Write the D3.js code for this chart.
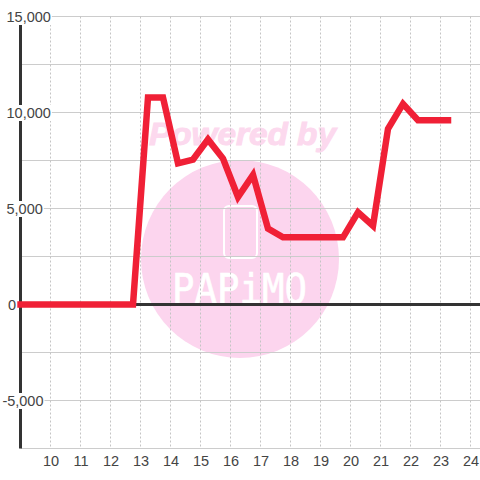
<!DOCTYPE html>
<html><head><meta charset="utf-8">
<script src="https://cdnjs.cloudflare.com/ajax/libs/d3/7.8.5/d3.min.js"></script>
<style>html,body{margin:0;padding:0;background:#fff}svg{display:block}text{font-family:"Liberation Sans",Arial,sans-serif}</style>
</head><body><svg id="c" width="480" height="480"></svg>
<script>
const hours = [9,12.75,13.25,13.75,14.25,14.75,15.25,15.75,16.25,16.75,17.25,17.75,18.25,18.75,19.25,19.75,20.25,20.75,21.25,21.75,22.25,22.75,23.25];
const values = [0,0,10780,10780,7350,7550,8600,7600,5600,6750,3950,3500,3500,3500,3500,3500,4800,4100,9150,10450,9600,9600,9600];
const xTicks = [10,11,12,13,14,15,16,17,18,19,20,21,22,23,24];
const yGrid = [15000,12500,10000,7500,5000,2500,0,-2500,-5000,-7500];
const yLabels = [15000,10000,5000,0,-5000];
const watermark = "Powered by";
const brand = "PAPiMO";

const svg = d3.select("#c");
const x = d3.scaleLinear().domain([9,24]).range([20.5,470.5]);
const y = d3.scaleLinear().domain([15000,-7500]).range([16.5,448.5]);

// watermark
const wm = svg.append("g");
wm.append("circle").attr("cx",240).attr("cy",259).attr("r",99).attr("fill","#fcd5ee");
wm.append("rect").attr("x",224).attr("y",206).attr("width",33).attr("height",52).attr("rx",5)
  .attr("fill","none").attr("stroke","#fff").attr("stroke-width",2);
wm.append("text").text(brand).attr("x",172).attr("y",303)
  .attr("textLength",135).attr("lengthAdjust","spacingAndGlyphs")
  .attr("font-size",40).attr("fill","#fff").attr("stroke","#fff").attr("stroke-width",0.6)
  .style("font-family","'DejaVu Sans Mono'");
wm.append("text").text(watermark).attr("x",149).attr("y",145)
  .attr("textLength",187).attr("lengthAdjust","spacingAndGlyphs")
  .attr("font-size",32).attr("font-weight","bold").attr("font-style","italic")
  .attr("fill","#fcd9ee").attr("stroke","#fcd9ee").attr("stroke-width",1);

// grid
svg.append("g").selectAll("line").data(yGrid).join("line")
  .attr("x1",x(9)).attr("x2",480).attr("y1",d=>y(d)).attr("y2",d=>y(d))
  .attr("stroke","#ccc").attr("stroke-width",1);
svg.append("g").selectAll("line").data(xTicks).join("line")
  .attr("x1",d=>x(d)).attr("x2",d=>x(d)).attr("y1",y(15000)).attr("y2",y(-7500))
  .attr("stroke","#c4c4c4").attr("stroke-width",1).attr("stroke-dasharray","2 2");

// axes
svg.append("line").attr("x1",x(9)).attr("x2",x(9)).attr("y1",y(15000)).attr("y2",y(-7500))
  .attr("stroke","#333").attr("stroke-width",3);
svg.append("line").attr("x1",x(9)).attr("x2",480).attr("y1",y(0)).attr("y2",y(0))
  .attr("stroke","#333").attr("stroke-width",3);

// data line
svg.append("path").datum(hours.map((h,i)=>[h,values[i]]))
  .attr("d",d3.line().x(d=>x(d[0])).y(d=>y(d[1])))
  .attr("fill","none").attr("stroke","#f02036").attr("stroke-width",6.5)
  .attr("stroke-linejoin","miter").attr("stroke-miterlimit",3).attr("stroke-linecap","square");

// y labels with white backing
const fmt = d3.format(",");
const yl = svg.append("g");
yLabels.forEach(v=>{
  const t = yl.append("text").text(fmt(v).replace("−","-")).attr("y",y(v)+5.5)
    .attr("font-size",14.5).attr("fill","#444");
  if (v<0) t.attr("text-anchor","end").attr("x",43.5);
  else t.attr("x",v===0?8:6.5);
  const b = t.node().getBBox();
  yl.insert("rect","text").attr("x",b.x-1).attr("y",b.y).attr("width",b.width+2).attr("height",b.height)
    .attr("fill","#fff");
});
// x labels
svg.append("g").selectAll("text").data(xTicks).join("text")
  .text(d=>d).attr("x",d=>x(d)+0.5).attr("y",466).attr("text-anchor","middle")
  .attr("font-size",14.5).attr("fill","#444");
</script></body></html>
